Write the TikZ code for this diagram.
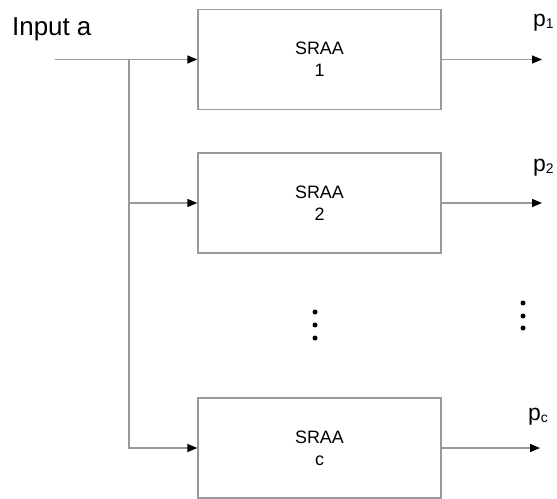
\documentclass[tikz,border=0pt]{standalone}
\usepackage{fontspec}
\setmainfont{Liberation Sans}
\usetikzlibrary{arrows.meta}
\begin{document}
\begin{tikzpicture}[x=1bp,y=-1bp,
 line/.style={draw=black!40, line width=1.3bp},
 arr/.style={line, -{Triangle[length=10bp,width=8bp,color=black]}},
 blk/.style={draw=black!40, line width=1.3bp, minimum width=243bp, minimum height=100bp, align=center, font=\fontsize{18}{22}\selectfont, inner sep=0pt},
 lbl/.style={font=\fontsize{26}{30}\selectfont, inner sep=0pt},
 plbl/.style={font=\fontsize{23}{26}\selectfont, inner sep=0pt, anchor=base west},
 dot/.style={circle, fill=black, inner sep=0pt, minimum size=5bp}]
\useasboundingbox (0,0) rectangle (557,499);
\node[blk] (b1) at (319.5,59.5) {SRAA\\1};
\node[blk] (b2) at (319.5,203) {SRAA\\2};
\node[blk] (bc) at (319.5,448) {SRAA\\c};
\node[lbl, anchor=base west] (inp) at (12,36) {Input a};
\node[plbl] (p1) at (533,27) {p\raisebox{-2bp}{\fontsize{14}{14}\selectfont 1}};
\node[plbl] (p2) at (533,172) {p\raisebox{-2bp}{\fontsize{14}{14}\selectfont 2}};
\node[plbl] (pc) at (528,420) {p\raisebox{-2bp}{\fontsize{14}{14}\selectfont c}};
\coordinate (in) at (55,59.5);
\coordinate (j) at (129,59.5);
\coordinate (o1) at (542,59.5);
\coordinate (o2) at (542,203);
\coordinate (oc) at (540,448);
\draw[arr] (in) -- (b1.west);
\draw[arr] (j) |- (b2.west);
\draw[arr] (j) |- (bc.west);
\draw[arr] (b1.east) -- (o1);
\draw[arr] (b2.east) -- (o2);
\draw[arr] (bc.east) -- (oc);
\node[dot] (m1) at (315,312) {};
\node[dot] (m2) at (315,325) {};
\node[dot] (m3) at (315,338) {};
\node[dot] (r1) at (523,303) {};
\node[dot] (r2) at (523,316) {};
\node[dot] (r3) at (523,328) {};
\end{tikzpicture}
\end{document}
